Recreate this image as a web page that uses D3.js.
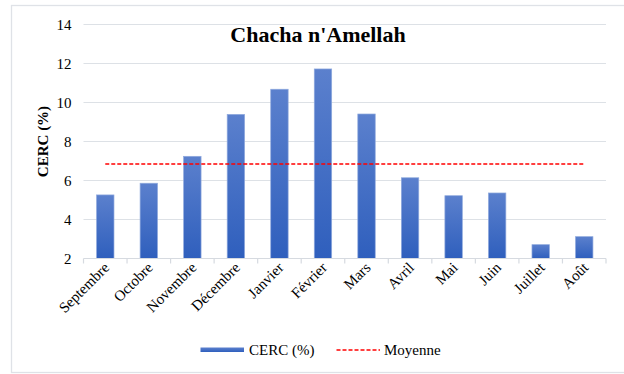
<!DOCTYPE html>
<html>
<head>
<meta charset="utf-8">
<script src="https://cdn.jsdelivr.net/npm/d3@7"></script>
</head>
<body style="margin:0;background:#fff">
<svg id="chart" width="624" height="374" style="display:block"></svg>
<script>
// Monthly CERC values (%) at Chacha n'Amellah
const months = ["Septembre", "Octobre", "Novembre", "Décembre", "Janvier", "Février",
                "Mars", "Avril", "Mai", "Juin", "Juillet", "Août"];
const cerc = [5.26, 5.86, 7.24, 9.39, 10.68, 11.72, 9.41, 6.14, 5.22, 5.36, 2.71, 3.12];
const yTicks = [2, 4, 6, 8, 10, 12, 14];
const title = "Chacha n'Amellah";
const yLabel = "CERC (%)";
const seriesLabels = ["CERC (%)", "Moyenne"];

const moyenne = d3.mean(cerc);

// serif text styling (attribute form)
function serif(sel, size, weight) {
  return sel.attr("font-family", "Liberation Serif")
    .attr("font-size", size)
    .attr("font-weight", weight || null)
    .attr("fill", "#000");
}

const svg = d3.select("#chart");
const W = 624, H = 374;
const m = { left: 83.5, right: 18, top: 24.5, bottom: 115.5 };

// outer frame
svg.append("rect")
  .attr("x", 11.5).attr("y", 5.5)
  .attr("width", W + 10).attr("height", 367)
  .attr("fill", "#fff").attr("stroke", "#dfe2e7").attr("stroke-width", 1.3);

const x = d3.scaleBand().domain(months).range([m.left, W - m.right]).paddingInner(0.6).paddingOuter(0.3);
const y = d3.scaleLinear().domain([2, 14]).range([H - m.bottom, m.top]);

const defs = svg.append("defs");
const grad = defs.append("linearGradient").attr("id", "barGrad")
  .attr("x1", 0).attr("y1", 0).attr("x2", 0).attr("y2", 1);
grad.append("stop").attr("offset", "0%").attr("stop-color", "#5b80cd");
grad.append("stop").attr("offset", "100%").attr("stop-color", "#2f5fbd");

// horizontal gridlines
svg.append("g")
  .selectAll("line")
  .data(yTicks.slice(1))
  .join("line")
  .attr("x1", m.left).attr("x2", W - m.right)
  .attr("y1", d => y(d)).attr("y2", d => y(d))
  .attr("stroke", "#dde1e6").attr("stroke-width", 1.2);

// bars
svg.append("g")
  .selectAll("rect")
  .data(cerc)
  .join("rect")
  .attr("x", (d, i) => x(months[i]))
  .attr("width", x.bandwidth())
  .attr("y", d => y(d))
  .attr("height", d => y(2) - y(d))
  .attr("fill", "url(#barGrad)")
  .attr("stroke", "#8fa9dd").attr("stroke-width", 0.7);

// x axis (category boundaries)
const xAxisG = svg.append("g").attr("transform", `translate(0,${y(2)})`);
xAxisG.append("line")
  .attr("x1", m.left).attr("x2", W - m.right)
  .attr("stroke", "#d6dae0").attr("stroke-width", 1.2);
const edges = months.map(mo => x(mo) - x.step() * x.paddingInner() / 2);
edges.push(W - m.right);
xAxisG.selectAll("line.tk")
  .data(edges)
  .join("line").attr("class", "tk")
  .attr("x1", d => d).attr("x2", d => d)
  .attr("y1", 0).attr("y2", 5)
  .attr("stroke", "#d6dae0").attr("stroke-width", 1.2);

serif(xAxisG.selectAll("text")
  .data(months)
  .join("text")
  .attr("transform", d => `translate(${x(d) + x.bandwidth() / 2 + 5},${10}) rotate(-45)`)
  .attr("text-anchor", "end"), 15)
  .text(d => d);

// y axis tick labels
const yAxis = d3.axisLeft(y).tickValues(yTicks).tickSize(0).tickPadding(12);
const yG = svg.append("g").attr("transform", `translate(${m.left},0)`).call(yAxis);
yG.select(".domain").remove();
yG.attr("font-family", "Liberation Serif").attr("font-size", 15);
serif(yG.selectAll("text"), 15);

// mean line
svg.append("line")
  .attr("x1", x(months[0]) + x.bandwidth() / 2)
  .attr("x2", x(months[months.length - 1]) + x.bandwidth() / 2)
  .attr("y1", y(moyenne)).attr("y2", y(moyenne))
  .attr("stroke", "#ff0000").attr("stroke-width", 1.6)
  .attr("stroke-dasharray", "4,2");

// title
serif(svg.append("text")
  .attr("x", 318).attr("y", 42)
  .attr("text-anchor", "middle"), 22, "bold")
  .text(title);

// y axis title
serif(svg.append("text")
  .attr("transform", `translate(48,${(y(2) + y(14)) / 2}) rotate(-90)`)
  .attr("text-anchor", "middle"), 15, "bold")
  .text(yLabel);

// legend
const lg = svg.append("g");
lg.append("rect")
  .attr("x", 200.5).attr("y", 347.5).attr("width", 43.5).attr("height", 4.5)
  .attr("fill", "url(#barGrad)");
serif(lg.append("text").attr("x", 249).attr("y", 355), 15).text(seriesLabels[0]);
lg.append("line")
  .attr("x1", 336.5).attr("x2", 380).attr("y1", 350).attr("y2", 350)
  .attr("stroke", "#ff0000").attr("stroke-width", 1.6).attr("stroke-dasharray", "4,2");
serif(lg.append("text").attr("x", 384).attr("y", 355), 15).text(seriesLabels[1]);
</script>
</body>
</html>
